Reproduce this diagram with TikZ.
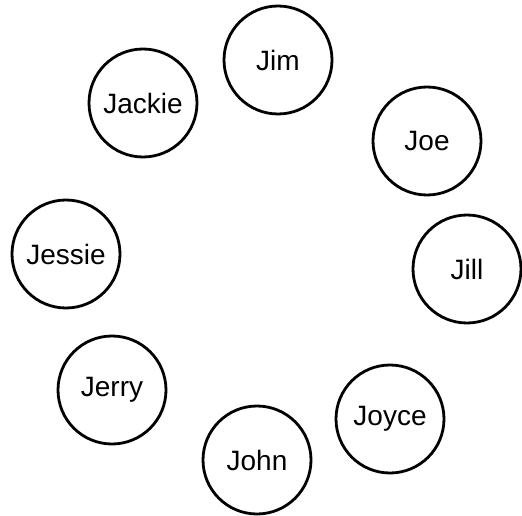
\documentclass[tikz,border=0pt]{standalone}
\usepackage{fontspec}
\setmainfont{Liberation Sans}
\begin{document}
\begin{tikzpicture}[x=1pt,y=-1pt,
  person/.style={circle,draw,line width=2.8pt,minimum size=108pt,inner sep=0pt,font=\fontsize{28}{32}\selectfont}]
\useasboundingbox (0,0) rectangle (522,516);
\node[person] (jim) at (278,60) {Jim};
\node[person] (jackie) at (143,103) {Jackie};
\node[person] (joe) at (427,141) {Joe};
\node[person] (jessie) at (66,254) {Jessie};
\node[person] (jill) at (467,269) {Jill};
\node[person] (jerry) at (112,390) {Jerry};
\node[person] (joyce) at (390,419) {Joyce};
\node[person] (john) at (257,460) {John};
\end{tikzpicture}
\end{document}
